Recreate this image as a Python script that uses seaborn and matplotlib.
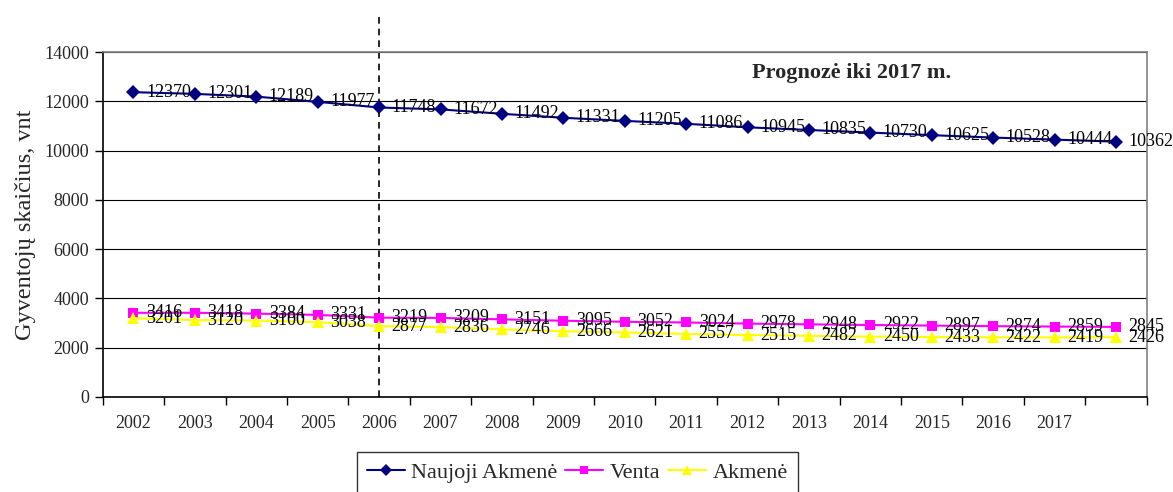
import matplotlib
matplotlib.use("Agg")
import matplotlib.pyplot as plt
import matplotlib.transforms as mtransforms
from matplotlib.lines import Line2D
import seaborn as sns
import pandas as pd

# ---- data ----
years = list(range(2002, 2019))
tick_labels = [str(y) for y in range(2002, 2018)] + [""]
naujoji = [12370, 12301, 12189, 11977, 11748, 11672, 11492, 11331, 11205,
           11086, 10945, 10835, 10730, 10625, 10528, 10444, 10362]
venta = [3416, 3418, 3384, 3331, 3219, 3209, 3151, 3095, 3052,
         3024, 2978, 2948, 2922, 2897, 2874, 2859, 2845]
akmene = [3201, 3120, 3100, 3038, 2877, 2836, 2746, 2666, 2621,
          2557, 2515, 2482, 2450, 2433, 2422, 2419, 2426]
series_names = ["Naujoji Akmenė", "Venta", "Akmenė"]
series_values = [naujoji, venta, akmene]
forecast_start_index = 4  # 2006
title_text = "Prognozė iki 2017 m."
ylabel_text = "Gyventojų skaičius, vnt"

colors = {"Naujoji Akmenė": "#000080", "Venta": "#FF00FF", "Akmenė": "#FFFF00"}
markers = {"Naujoji Akmenė": "D", "Venta": "s", "Akmenė": "^"}
msizes = {"Naujoji Akmenė": 7, "Venta": 7, "Akmenė": 8}

rows = []
for name, vals in zip(series_names, series_values):
    for i, (yr, v) in enumerate(zip(years, vals)):
        rows.append({"pos": i, "year": yr, "value": v, "series": name})
df = pd.DataFrame(rows)

sns.set_theme(style="white")
plt.rcParams["font.family"] = ["Liberation Serif", "DejaVu Serif"]

fig = plt.figure(figsize=(11.73, 4.92), dpi=100)
ax = fig.add_axes([0.0876, 0.1931, 0.8900, 0.7012])

for name in series_names:
    sub = df[df["series"] == name]
    sns.lineplot(data=sub, x="pos", y="value", ax=ax, color=colors[name],
                 marker=markers[name], markersize=msizes[name],
                 markeredgewidth=0, linewidth=1.5, legend=False)

# data labels
for name, vals in zip(series_names, series_values):
    for i, v in enumerate(vals):
        ax.annotate(str(v), (i, v), xytext=(9, 0), textcoords="offset points",
                    ha="left", va="center", fontsize=13, color="black")

n = len(years)
ax.set_xlim(-0.5, n - 0.5)
ax.set_ylim(0, 14000)
ax.set_yticks(range(0, 14001, 2000))
ax.yaxis.grid(True, color="black", linewidth=0.8)
ax.xaxis.grid(False)
ax.set_axisbelow(True)

# x ticks at category boundaries, labels at centers
ax.set_xticks([i - 0.5 for i in range(n + 1)])
ax.set_xticklabels([])
ax.set_xticks(list(range(n)), minor=True)
ax.set_xticklabels(tick_labels, minor=True)
ax.tick_params(axis="x", which="major", direction="out", length=6, width=1,
               color="black", bottom=True)
ax.tick_params(axis="x", which="minor", length=0, pad=13, labelsize=13)
ax.tick_params(axis="y", direction="out", length=6, width=1, color="black",
               left=True, pad=4, labelsize=13)

ax.set_xlabel("")
ax.set_ylabel(ylabel_text, fontsize=17.5, labelpad=6)

for side in ["left", "bottom"]:
    ax.spines[side].set_color("black")
    ax.spines[side].set_linewidth(1.2)
for side in ["top", "right"]:
    ax.spines[side].set_color("#808080")
    ax.spines[side].set_linewidth(1.2)

# forecast separator
trans = mtransforms.blended_transform_factory(ax.transData, ax.transAxes)
ax.plot([forecast_start_index, forecast_start_index], [0, 1.107],
        transform=trans, color="black", linewidth=1.2, linestyle=(0, (4, 3)),
        clip_on=False, zorder=1)

ax.text(0.717, 0.939, title_text, transform=ax.transAxes, ha="center",
        va="center", fontsize=16, fontweight="bold")

handles = [Line2D([0], [0], color=colors[nm], marker=markers[nm],
                  markersize=msizes[nm] - 1, markeredgewidth=0, linewidth=1.5)
           for nm in series_names]
leg = fig.legend(handles, series_names, loc="upper left",
                 bbox_to_anchor=(0.3043, 0.0813), ncol=3, fontsize=16,
                 frameon=True, fancybox=False, edgecolor="black",
                 borderaxespad=0, handlelength=1.7, handletextpad=0.3,
                 columnspacing=0.35, borderpad=0.45)
leg.get_frame().set_linewidth(1.0)

fig.savefig("out.png", dpi=100)
